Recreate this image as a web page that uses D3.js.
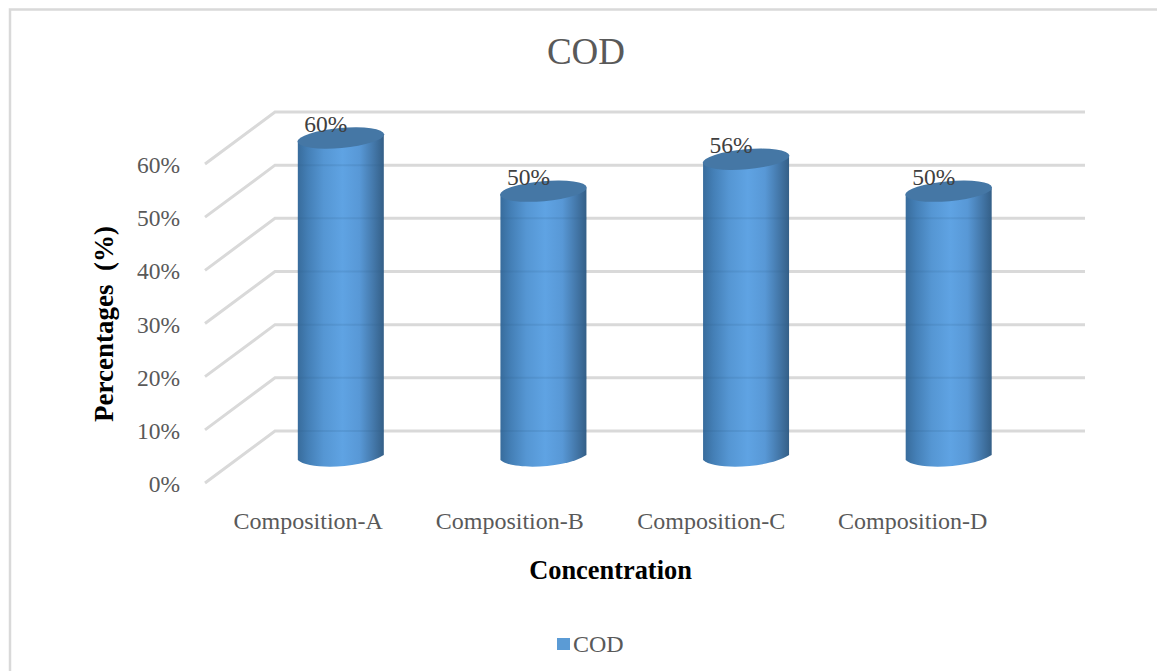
<!DOCTYPE html>
<html><head><meta charset="utf-8">
<script src="https://cdn.jsdelivr.net/npm/d3@7/dist/d3.min.js"></script>
<style>html,body{margin:0;padding:0;background:#fff;overflow:hidden}svg{display:block}text{font-family:"Liberation Serif","Times New Roman",serif}</style>
</head><body><svg id="c" width="1157" height="671"></svg>
<script>
const categories=["Composition-A","Composition-B","Composition-C","Composition-D"];
const values=[60,50,56,50];
const valueLabels=["60%","50%","56%","50%"];
const ticks=[0,10,20,30,40,50,60];
const seriesName="COD";
const titleText="COD", xTitle="Concentration", yTitle="Percentages  (%)";

const svg=d3.select("#c");
const y=d3.scaleLinear().domain([0,60]).range([431,112]);
const x=d3.scaleBand().domain(categories).range([239.5,1050]).padding(0);
const xLabel=d3.scaleBand().domain(categories).range([207.5,1013.5]).padding(0);
const depthX=-70, depthY=52, wallRight=1085, wallLeft=275;
const barW=86;
const grid="#d9d9d9", txt="#595959";

const defs=svg.append("defs");
const g=defs.append("linearGradient").attr("id","cyl").attr("x1",0).attr("x2",1).attr("y1",0).attr("y2",0);
[[0,"#386c9c"],[0.12,"#447fb6"],[0.3,"#5596d3"],[0.52,"#5fa3e3"],[0.72,"#5898d6"],[0.88,"#4478aa"],[1,"#345f87"]]
 .forEach(s=>g.append("stop").attr("offset",s[0]).attr("stop-color",s[1]));

svg.append("rect").attr("x",10).attr("y",9.5).attr("width",1160).attr("height",680)
 .attr("fill","#fff").attr("stroke",grid).attr("stroke-width",2.5);

ticks.forEach(t=>{
  svg.append("polyline").attr("fill","none").attr("stroke",grid).attr("stroke-width",3)
   .attr("points",[[wallLeft+depthX,y(t)+depthY],[wallLeft,y(t)],[wallRight,y(t)]].join(" "));
  svg.append("text").attr("x",180).attr("y",y(t)+depthY+9).attr("text-anchor","end")
   .attr("font-size",23.5).attr("fill",txt).text(t+"%");
});

const rx=barW/2, ry=10, tilt=-5;
const topY=v=>y(v)+depthY/2;
categories.forEach((c,i)=>{
  const cx=x(c)+x.bandwidth()/2, l=cx-rx, r=cx+rx, t=topY(values[i]), b=topY(0);
  const body=d3.path();
  body.moveTo(l,t+3);
  body.lineTo(l,b+3);
  body.bezierCurveTo(l+10,b+13,r-22,b+12,r,b-2);
  body.lineTo(r,t-3);
  body.closePath();
  svg.append("path").attr("d",body).attr("fill","url(#cyl)");
  ticks.filter(k=>y(k)>t+12).forEach(k=>{
    svg.append("line").attr("x1",l).attr("x2",r).attr("y1",y(k)).attr("y2",y(k))
      .attr("stroke","#2f5f8a").attr("stroke-width",2).attr("opacity",0.15);
  });
  svg.append("ellipse").attr("cx",cx).attr("cy",t).attr("rx",rx+0.5).attr("ry",ry)
    .attr("transform",`rotate(${tilt} ${cx} ${t})`).attr("fill","#4577a5");
  svg.append("text").attr("x",cx-15).attr("y",t-6).attr("text-anchor","middle")
   .attr("font-size",23.5).attr("fill","#404040").text(valueLabels[i]);
  svg.append("text").attr("x",xLabel(c)+xLabel.bandwidth()/2).attr("y",529).attr("text-anchor","middle")
   .attr("font-size",24).attr("fill",txt).text(c);
});

svg.append("text").attr("x",586).attr("y",64).attr("text-anchor","middle")
 .attr("font-size",37).attr("fill",txt).text(titleText);
svg.append("text").attr("x",610.5).attr("y",579).attr("text-anchor","middle")
 .attr("font-size",26.4).attr("font-weight","bold").attr("fill","#000").text(xTitle);
svg.append("text").attr("transform","translate(113,324) rotate(-90)").attr("text-anchor","middle")
 .attr("font-size",27).attr("font-weight","bold").attr("fill","#000").style("white-space","pre").text(yTitle);
svg.append("rect").attr("x",557).attr("y",638).attr("width",13).attr("height",12).attr("fill","#5b9bd5");
svg.append("text").attr("x",573).attr("y",652).attr("font-size",24).attr("fill",txt).text(seriesName);
</script></body></html>
